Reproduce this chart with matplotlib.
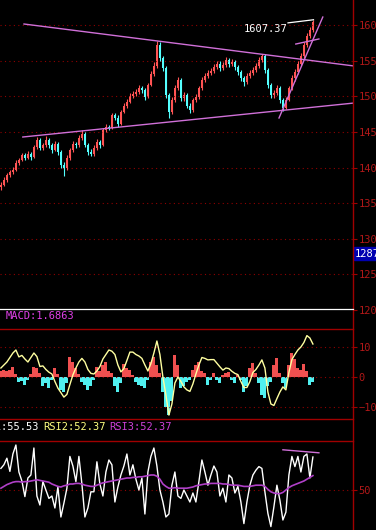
import matplotlib
matplotlib.use("Agg")
import numpy as np
from matplotlib import pyplot as plt
from matplotlib.lines import Line2D
from matplotlib.patches import Rectangle

# price bars (one bar every 3 px in the reference)
opens = [1372, 1376, 1383, 1389, 1394, 1397, 1407, 1411, 1417, 1414, 1419, 1415, 1429, 1438, 1428,
         1431, 1439, 1431, 1425, 1433, 1422, 1404, 1400, 1414, 1425, 1433, 1431, 1442, 1447, 1432,
         1422, 1419, 1428, 1436, 1432, 1453, 1457, 1456, 1473, 1470, 1461, 1478, 1487, 1492, 1501,
         1503, 1506, 1512, 1509, 1499, 1516, 1531, 1543, 1572, 1554, 1540, 1502, 1478, 1495, 1512,
         1523, 1498, 1502, 1487, 1481, 1495, 1499, 1512, 1523, 1529, 1533, 1536, 1541, 1545, 1540,
         1544, 1551, 1545, 1548, 1541, 1534, 1526, 1520, 1529, 1533, 1537, 1543, 1551, 1557, 1537,
         1516, 1502, 1505, 1512, 1495, 1484, 1495, 1512, 1526, 1534, 1545, 1557, 1572, 1585, 1593]
closes = [1376, 1383, 1389, 1394, 1397, 1407, 1411, 1417, 1414, 1419, 1415, 1429, 1438, 1428, 1431,
          1439, 1431, 1425, 1433, 1422, 1404, 1400, 1414, 1425, 1433, 1431, 1442, 1447, 1432, 1422,
          1419, 1428, 1436, 1432, 1453, 1457, 1456, 1473, 1470, 1461, 1478, 1487, 1492, 1501, 1503,
          1506, 1512, 1509, 1499, 1516, 1531, 1543, 1572, 1554, 1540, 1502, 1478, 1495, 1512, 1523,
          1498, 1502, 1487, 1481, 1495, 1499, 1512, 1523, 1529, 1533, 1536, 1541, 1545, 1540, 1544,
          1551, 1545, 1548, 1541, 1534, 1526, 1520, 1529, 1533, 1537, 1543, 1551, 1557, 1537, 1516,
          1502, 1505, 1512, 1495, 1484, 1495, 1512, 1526, 1534, 1545, 1557, 1572, 1585, 1593, 1604]
highs = [1379, 1386, 1392, 1397, 1401, 1410, 1414, 1420, 1421, 1423, 1422, 1432, 1443, 1441, 1435,
         1444, 1442, 1434, 1437, 1436, 1425, 1408, 1417, 1428, 1437, 1436, 1446, 1452, 1450, 1435,
         1426, 1431, 1440, 1439, 1456, 1461, 1460, 1477, 1476, 1473, 1481, 1491, 1496, 1505, 1508,
         1510, 1516, 1515, 1512, 1519, 1535, 1548, 1578, 1576, 1557, 1543, 1505, 1499, 1516, 1527,
         1525, 1506, 1505, 1490, 1498, 1503, 1515, 1527, 1533, 1537, 1540, 1545, 1550, 1549, 1548,
         1555, 1554, 1552, 1551, 1544, 1537, 1529, 1532, 1537, 1541, 1547, 1555, 1560, 1559, 1540,
         1519, 1509, 1516, 1515, 1498, 1499, 1515, 1530, 1538, 1549, 1561, 1576, 1589, 1597, 1607.37]
lows = [1369, 1374, 1380, 1387, 1391, 1395, 1404, 1409, 1411, 1412, 1411, 1413, 1426, 1425, 1424,
        1429, 1427, 1421, 1423, 1418, 1399, 1388, 1397, 1411, 1422, 1427, 1429, 1439, 1429, 1418,
        1416, 1416, 1425, 1428, 1430, 1450, 1452, 1454, 1466, 1457, 1459, 1476, 1484, 1490, 1498,
        1500, 1503, 1505, 1495, 1497, 1514, 1528, 1540, 1550, 1535, 1497, 1469, 1475, 1492, 1509,
        1494, 1494, 1483, 1476, 1478, 1492, 1496, 1509, 1520, 1526, 1530, 1533, 1538, 1536, 1537,
        1541, 1541, 1542, 1537, 1530, 1521, 1515, 1517, 1526, 1530, 1534, 1540, 1548, 1533, 1511,
        1497, 1498, 1502, 1490, 1479, 1482, 1493, 1509, 1522, 1531, 1542, 1554, 1569, 1582, 1590]

macd_hist = [2, 2.5, 2, 2.5, 3.4, 1, -1.5, -1.2, -2.7, -1, 1, 3.4, 3, 1.5, -3, -2, -3.7, -1, 2.9, 1,
             -4.3, -4.9, -2, 6.8, 5, 2.9, 1, -1.5, -2.5, -4.3, -3, -1, 3.4, 2, 4, 5, 2, 1.5, -3, -5,
             -2, 4.5, 3, 2.5, 0.8, -1.5, -2.5, -3, -3.7, -1, 5, 6.8, 4, 1.5, -5, -10, -12.7, -8, 7.3, 4,
             -3.8, -3, -1.5, -1, 2.5, 4, 5, 2, 1.5, -2.7, -1, 1.2, -1, -2, 0.8, 1.2, 1.8, -1, -2, 0.8,
             -1, -4.9, -3, 3, 4.6, 1.5, -2, -6, -7, -3, -1.5, 4, 6.2, 1.5, -2, -3.8, 4, 7.9, 6, 3,
             2.5, 4.5, 2, -2.7, -1.5]
macd_line = [3, 4, 5, 6.5, 8, 9, 6.7, 7.2, 6, 5, 6.5, 8, 6.8, 3.5, 3.7, 2.5, 1.6, 1, -1.5, -3.7,
             -5.2, -6.7, -5.8, -2.5, 0.7, 3, 5, 6.2, 5, 2.5, 1.2, 1, 2, 3.5, 6, 7.5, 9, 8.6, 7.5, 4,
             1.7, 2.8, 5.5, 8.3, 8.3, 7.5, 7, 6.2, 4, 2, 4.5, 8, 12, 7.5, 0, -6, -12.7, -9, -2, 0,
             -1.5, -3.3, -4.3, -4.8, -2.3, 1, 4, 6.5, 6.2, 5.7, 5.8, 5.8, 4.6, 3.4, 2.3, 3, 2.8, 1.9, 1.2, 0.8,
             -1.5, -3.5, -3.5, -1.5, 1.5, 2.5, 4, 5.7, 3, -5, -9, -9.5, -7.2, -5, -3.3, -4.3, 1.5, 5.8, 7.5, 9,
             10, 11.5, 13.8, 13, 11]

rsi1 = [53.6, 54.2, 55.3, 53.1, 56, 57.5, 53, 51.5, 48.9, 52, 52.5, 57, 49, 47.5, 51.4, 50, 48.6, 49,
        47, 50.5, 45.5, 47.8, 50.3, 55.6, 54, 51.4, 55.6, 51, 45.5, 47, 49.7, 49.7, 54.7, 51, 49, 53,
        55, 54.2, 48, 50.5, 52.5, 54, 56, 52.5, 54.2, 51.8, 50, 52, 46, 53, 55.6, 57, 54, 50, 48, 45.5,
        46, 50.8, 53, 49, 48.6, 50, 49, 48, 49.5, 48, 51.4, 55, 53, 50.8, 52.5, 54, 53, 49, 50.3, 48,
        52.5, 52, 49.5, 50.6, 48, 44.4, 48, 50.8, 52.5, 53.3, 53.9, 53.6, 49.7, 46.1, 43.9, 47.2, 50.8,
        48.3, 45, 46.3, 52.5, 55.6, 53.9, 55.6, 53, 55.6, 56, 52, 55.5]
rsi3 = [50.3, 50.6, 50.9, 51.1, 51.3, 51.4, 51.4, 51.3, 51.4, 51.4, 51.5, 51.6, 51.7, 51.6, 51.5,
        51.4, 51.3, 51.0, 50.8, 50.6, 50.5, 50.7, 50.8, 51.0, 51.0, 51.1, 51.1, 51.0, 50.8, 50.7,
        50.6, 50.6, 50.8, 51.0, 51.2, 51.3, 51.4, 51.5, 51.6, 51.7, 51.8, 51.9, 52.0, 52.0, 52.1,
        52.1, 52.2, 52.2, 52.3, 52.4, 52.5, 52.5, 52.3, 51.8, 51.0, 50.6, 50.3, 50.3, 50.4, 50.3,
        50.3, 50.3, 50.3, 50.4, 50.5, 50.7, 50.8, 50.9, 51.0, 51.0, 51.1, 51.1, 51.1, 51.1, 51.0,
        51.0, 50.9, 50.8, 50.8, 50.8, 50.7, 50.6, 50.6, 50.6, 50.7, 50.8, 50.8, 50.8, 50.6, 50.1,
        49.7, 49.5, 49.4, 49.4, 49.6, 50.0, 50.4, 50.7, 50.9, 51.1, 51.3, 51.5, 51.8, 52.1, 52.4]

price_ticks = [1200, 1250, 1300, 1350, 1400, 1450, 1500, 1550, 1600]
macd_ticks = [-10, 0, 10]
rsi_ticks = [50]

# drawn trend lines: (bar, price) pairs
trend_upper = ([7.7, 117.7], [1601.4, 1542.5])
trend_lower = ([7.3, 117.7], [1442.8, 1490.5])
trend_steep = ([92.7, 107.3], [1469.5, 1611.2])
trend_short = ([98.3, 106.0], [1573.3, 1580.4])
rsi_trend = ([94.0, 106.0], [56.7, 56.2])

BG = "black"
AX = "#a00000"
TXT = "#b01818"
UP = "#ff5454"
DOWN = "#54ffff"
TREND = "#d070d8"
MONO = "DejaVu Sans Mono"
W, H = 376, 530

fig = plt.figure(figsize=(W / 100, H / 100), dpi=100, facecolor=BG)


def box(top, bottom, right=353):
    return [0, 1 - bottom / H, right / W, (bottom - top) / H]


ax_p = fig.add_axes(box(0, 310))
ax_m = fig.add_axes(box(329, 419))
ax_r = fig.add_axes(box(441, 530))

n = len(closes)
idx = np.arange(n)
xlim = (-0.3, 353 / 3 - 0.3)

for ax in (ax_p, ax_m, ax_r):
    ax.set_facecolor(BG)
    ax.set_xlim(*xlim)
    ax.set_xticks([])
    ax.yaxis.tick_right()
    ax.tick_params(axis="y", colors=AX, labelcolor=TXT, length=3, width=0.8,
                   pad=1, labelsize=7.5)
    for lab in ax.get_yticklabels():
        lab.set_family(MONO)
    for s in ax.spines.values():
        s.set_visible(False)

# price panel
o = np.array(opens, dtype=float)
c = np.array(closes, dtype=float)
cols = np.where(c >= o, UP, DOWN)
ax_p.vlines(idx, lows, highs, colors=cols, lw=0.8)
ax_p.bar(idx, np.maximum(np.abs(c - o), 1.0), bottom=np.minimum(o, c), width=0.55,
         color=cols, lw=0)
for tl in (trend_upper, trend_lower, trend_steep, trend_short):
    ax_p.plot(tl[0], tl[1], color=TREND, lw=1.0)
ax_p.plot([95.7, 104.2], [1603.0, 1607.37], color="white", lw=0.9)
ax_p.text(95.4, 1594, "1607.37", color="white", fontsize=7.5, family=MONO,
          ha="right", va="center")
ax_p.set_ylim(1200, 1635.1)
ax_p.set_yticks(price_ticks)
ax_p.grid(axis="y", color="#900000", linestyle=(0, (1, 3)), lw=0.8)

# macd panel
mh = np.array(macd_hist)
ax_m.bar(idx, mh, width=1.0, color=np.where(mh >= 0, "#f05050", "#50f0f0"), lw=0)
ax_m.plot(idx, macd_line, color="#ffffa0", lw=1.0)
ax_m.set_ylim(-14, 16)
ax_m.set_yticks(macd_ticks)
ax_m.grid(axis="y", color="#900000", linestyle=(0, (1, 3)), lw=0.8)
for s in ("top", "bottom"):
    ax_m.spines[s].set_visible(True)
    ax_m.spines[s].set_color(AX)
    ax_m.spines[s].set_linewidth(1.0)

# rsi panel
ax_r.plot(idx, rsi1, color="white", lw=1.0)
ax_r.plot(idx, rsi3, color="#b040c8", lw=1.2)
ax_r.plot(rsi_trend[0], rsi_trend[1], color=TREND, lw=1.0)
ax_r.set_ylim(50 - 40 / 6, 50 + 49 / 6)
ax_r.set_yticks(rsi_ticks)
ax_r.grid(axis="y", color="#900000", linestyle=(0, (1, 3)), lw=0.8)
ax_r.spines["top"].set_visible(True)
ax_r.spines["top"].set_color(AX)
ax_r.spines["top"].set_linewidth(1.0)

# frame lines
fig.add_artist(Line2D([353 / W, 353 / W], [0, 1], color=AX, lw=1.0))
fig.add_artist(Line2D([0, 353 / W], [1 - 309 / H, 1 - 309 / H], color="white", lw=0.9))

# last price box
fig.add_artist(Rectangle((354 / W, 1 - 260 / H), 22 / W, 13 / H, color="#0000b0"))
fig.text(355 / W, 1 - 253.5 / H, "1287", color="white", fontsize=7.5, family=MONO,
         va="center", ha="left")

# indicator titles
fig.text(6 / W, 1 - 316 / H, "MACD:1.6863", color="#e040e8", fontsize=7.5, family=MONO,
         va="center")
fig.text(-24 / W, 1 - 427 / H, "RSI1:55.53", color="white", fontsize=7.5, family=MONO,
         va="center")
fig.text(43 / W, 1 - 427 / H, "RSI2:52.37", color="#ffff80", fontsize=7.5, family=MONO,
         va="center")
fig.text(109 / W, 1 - 427 / H, "RSI3:52.37", color="#d040d8", fontsize=7.5, family=MONO,
         va="center")

fig.savefig("out.png", dpi=100, facecolor=BG)
